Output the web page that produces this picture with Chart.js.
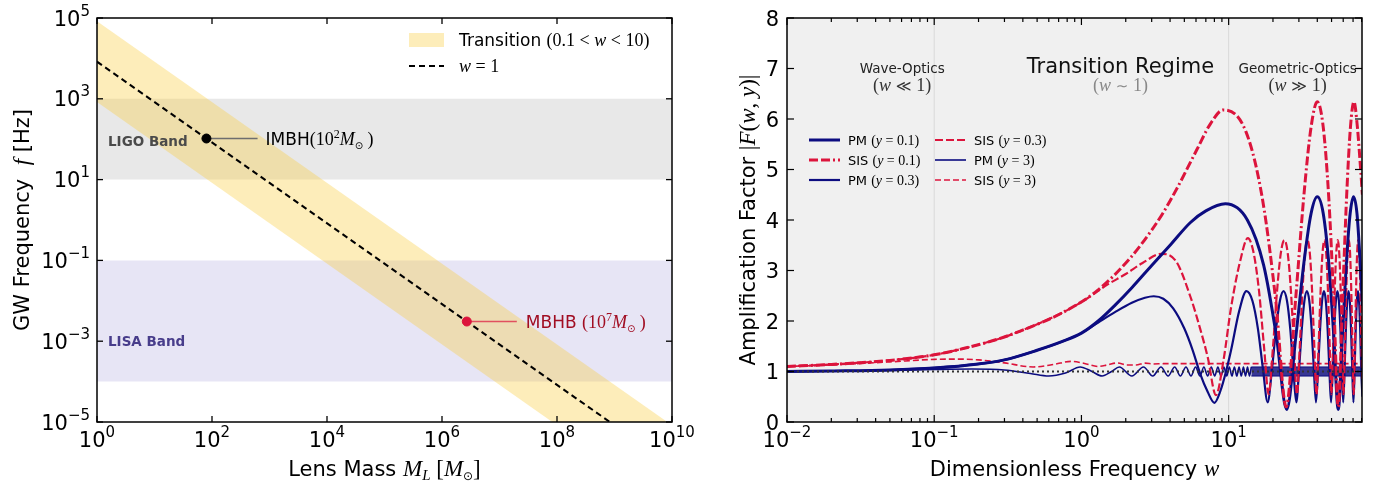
<!DOCTYPE html>
<html>
<head>
<meta charset="utf-8">
<script src="https://cdn.jsdelivr.net/npm/chart.js@4.4.1/dist/chart.umd.min.js"></script>
<style>
  html, body { margin: 0; padding: 0; background: #fff; }
  #wrap { position: relative; width: 1385px; height: 485px; }
  #left { position: absolute; left: 0; top: 0; }
  #right { position: absolute; left: 690px; top: 0; }
</style>
</head>
<body>
<div id="wrap">
  <canvas id="left" width="720" height="485"></canvas>
  <canvas id="right" width="695" height="485"></canvas>
</div>
<script>
// ---- left panel data (lens mass vs GW frequency) ----
const massTickExps = [0, 2, 4, 6, 8, 10];
const freqTickExps = [-5, -3, -1, 1, 3, 5];
const massRange = [1, 1e10];
const freqW1 = [8300, 8.3e-7];      // w = 1
const freqW01 = [830, 8.3e-8];      // w = 0.1
const freqW10 = [83000, 8.3e-6];    // w = 10
const ligoBand = [10, 1000];
const lisaBand = [1e-4, 0.1];
const imbhPoint = [80, 104];
const mbhbPoint = [2.7e6, 3.07e-3];
const imbhLeader = [80, 620];
const mbhbLeader = [2.7e6, 2.0e7];

// ---- right panel data (amplification factor) ----
const wTicks = [0.01, 0.1, 1, 10];
const fTicks = [0, 1, 2, 3, 4, 5, 6, 7, 8];
const regimeLines = [0.1, 10];
const unityW = [0.01, 81];
const unityF = [1, 1];

const pm01W = [0.01, 0.02, 0.05, 0.1, 0.2, 0.3, 0.5, 0.75, 1.0, 1.3, 1.7, 2.2, 3.0, 4.0, 5.5, 7.0, 9.5,
  13.4, 17.3, 21.1, 24.8, 28.7, 32.5, 36.3, 40.0, 43.9, 47.8, 51.7, 55.5, 59.3, 63.1, 66.9, 70.5, 74.4, 78.2, 81];
const pm01F = [1.0, 1.01, 1.03, 1.07, 1.15, 1.23, 1.42, 1.6, 1.76, 2.0, 2.32, 2.66, 3.1, 3.5, 3.95, 4.18, 4.32,
  4.0, 3.1, 1.7, 0.25, 1.73, 3.17, 4.13, 4.46, 4.13, 3.17, 1.73, 0.25, 1.73, 3.17, 4.13, 4.46, 4.13, 3.17, 2.3];

const pm03W = [0.01, 0.02, 0.05, 0.1, 0.2, 0.3, 0.5, 0.75, 1.0, 1.3, 1.7, 2.2, 2.7, 3.1, 3.6, 4.2, 5.0, 5.7, 6.4, 7.2, 8.0, 8.8, 9.6, 10.4, 11.8,
  13.2, 14.5, 15.8, 17.1, 18.4, 19.7, 21.0, 22.3,
  23.6, 24.9, 26.2, 27.5, 28.8, 30.1, 31.4, 32.7,
  34.0, 35.3, 36.6, 37.9, 39.2, 40.5, 41.8, 43.1,
  44.4, 45.7, 47.0, 48.3, 49.6, 50.9, 52.2, 53.5,
  54.8, 56.1, 57.4, 58.7, 60.0, 61.3, 62.6, 63.9,
  65.2, 66.5, 67.8, 69.1, 70.4, 71.7, 73.0, 74.3,
  75.6, 76.9, 78.2, 79.5, 81];
const pm03F = [1.0, 1.01, 1.03, 1.07, 1.15, 1.23, 1.42, 1.6, 1.76, 1.97, 2.18, 2.36, 2.46, 2.49, 2.44, 2.25, 1.85, 1.42, 0.96, 0.6, 0.38, 0.62, 1.0, 1.43, 2.2,
  2.59, 2.4, 1.85, 1.05, 0.39, 1.05, 1.85, 2.4,
  2.59, 2.4, 1.85, 1.05, 0.39, 1.05, 1.85, 2.4,
  2.59, 2.4, 1.85, 1.05, 0.39, 1.05, 1.85, 2.4,
  2.59, 2.4, 1.85, 1.05, 0.39, 1.05, 1.85, 2.4,
  2.59, 2.4, 1.85, 1.05, 0.39, 1.05, 1.85, 2.4,
  2.59, 2.4, 1.85, 1.05, 0.39, 1.05, 1.85, 2.4,
  2.59, 2.4, 1.85, 1.05, 0.5];

const pm3W = [0.01, 0.05, 0.1, 0.18, 0.3, 0.45, 0.6, 0.78, 0.98, 1.18, 1.38, 1.6, 1.81,
  2.2, 2.64, 3.05, 3.47, 3.88, 4.3, 4.7, 5.13, 5.55, 5.96, 6.38, 6.79, 7.2, 7.62, 8.04, 8.45,
  8.87, 9.28, 9.7, 10.11, 10.53, 10.94, 11.36, 11.77, 12.19, 12.6, 13.02, 13.43, 13.85, 14.26];
const pm3F = [1.0, 1.02, 1.04, 1.05, 1.03, 0.96, 0.91, 0.97, 1.09, 1.0, 0.91, 1.0, 1.09,
  0.91, 1.09, 0.91, 1.09, 0.91, 1.09, 0.91, 1.09, 0.91, 1.09, 0.91, 1.09, 0.91, 1.09, 0.91, 1.09,
  0.91, 1.09, 0.91, 1.09, 0.91, 1.09, 0.91, 1.09, 0.91, 1.09, 0.91, 1.09, 0.91, 1.09];
const pm3BandW = [14.26, 81];
const pm3BandLow = [0.91, 0.91];
const pm3BandHigh = [1.09, 1.09];

const sis01W = [0.01, 0.02, 0.05, 0.1, 0.16, 0.27, 0.45, 0.76, 1.28, 2.15, 3.0, 3.6, 4.5, 6.1, 7.5, 9.2,
  13.1, 17.0, 20.9, 24.6, 28.5, 32.4, 36.3, 40.0, 43.9, 47.8, 51.7, 55.5, 59.4, 63.3, 67.2, 71.0, 74.9, 78.8, 81];
const sis01F = [1.1, 1.14, 1.22, 1.33, 1.46, 1.64, 1.88, 2.18, 2.6, 3.25, 3.8, 4.15, 4.65, 5.4, 5.9, 6.18,
  5.75, 4.4, 2.4, 0.3, 2.43, 4.47, 5.84, 6.34, 5.84, 4.47, 2.43, 0.3, 2.43, 4.47, 5.84, 6.34, 5.84, 5.0, 4.5];

const sis03W = [0.01, 0.02, 0.05, 0.1, 0.16, 0.27, 0.45, 0.76, 1.1, 1.5, 2.0, 2.6, 3.5, 4.4, 5.5, 6.4, 7.2, 8.2, 9.2, 10.4, 12.0,
  13.5, 14.8, 16.1, 17.4, 18.7, 20.0, 21.3, 22.6,
  23.9, 25.2, 26.5, 27.8, 29.1, 30.4, 31.7, 33.0,
  34.3, 35.6, 36.9, 38.2, 39.5, 40.8, 42.1, 43.4,
  44.7, 46.0, 47.3, 48.6, 49.9, 51.2, 52.5, 53.8,
  55.1, 56.4, 57.7, 59.0, 60.3, 61.6, 62.9, 64.2,
  65.5, 66.8, 68.1, 69.4, 70.7, 72.0, 73.3, 74.6,
  75.9, 77.2, 78.5, 79.8, 81];
const sis03F = [1.1, 1.14, 1.22, 1.33, 1.46, 1.64, 1.88, 2.18, 2.45, 2.72, 2.93, 3.15, 3.33, 3.18, 2.48, 1.85, 1.29, 0.53, 1.2, 2.28, 3.2,
  3.64, 3.34, 2.58, 1.48, 0.55, 1.48, 2.58, 3.34,
  3.6, 3.34, 2.58, 1.48, 0.55, 1.48, 2.58, 3.34,
  3.6, 3.34, 2.58, 1.48, 0.55, 1.48, 2.58, 3.34,
  3.6, 3.34, 2.58, 1.48, 0.55, 1.48, 2.58, 3.34,
  3.6, 3.34, 2.58, 1.48, 0.55, 1.48, 2.58, 3.34,
  3.6, 3.34, 2.58, 1.48, 0.55, 1.48, 2.58, 3.34,
  3.6, 3.34, 2.58, 1.48, 0.8];

const sis3W = [0.01, 0.02, 0.05, 0.1, 0.15, 0.2, 0.3, 0.47, 0.65, 0.85, 1.05, 1.3, 1.5, 1.75, 2.05, 2.35, 2.7, 3.1, 3.6, 81];
const sis3F = [1.1, 1.13, 1.19, 1.24, 1.245, 1.23, 1.17, 1.09, 1.14, 1.2, 1.16, 1.1, 1.13, 1.17, 1.13, 1.13, 1.165, 1.15, 1.155, 1.155];

// ---- helpers ----
const NAVY = '#0c0c80';
const CRIMSON = '#dc143c';
const YELLOW = 'rgba(250, 205, 65, 0.36)';
const sans = (s, w = '') => `${w} ${s}px "DejaVu Sans", sans-serif`.trim();
const serif = (s, it = false) => `${it ? 'italic ' : ''}${s}px "Liberation Serif", "DejaVu Serif", serif`;
const pts = (xs, ys) => xs.map((x, i) => ({ x, y: ys[i] }));

function label(ctx, parts, x, y, align) {
  ctx.textAlign = 'left';
  ctx.textBaseline = 'alphabetic';
  let total = 0;
  parts.forEach((p) => { ctx.font = p.font; total += ctx.measureText(p.t).width; });
  let cx = align === 'center' ? x - total / 2 : align === 'right' ? x - total : x;
  parts.forEach((p) => {
    ctx.font = p.font;
    ctx.fillStyle = p.color || '#000';
    ctx.fillText(p.t, cx, y + (p.dy || 0));
    cx += ctx.measureText(p.t).width;
  });
}

function powerParts(e) {
  return [
    { t: '10', font: sans(21) },
    { t: e < 0 ? '\u2212' + (-e) : String(e), font: sans(15), dy: -10 },
  ];
}

function line(ctx, x1, y1, x2, y2) {
  ctx.beginPath();
  ctx.moveTo(x1, y1);
  ctx.lineTo(x2, y2);
  ctx.stroke();
}

function legendParts(model, yv) {
  return [
    { t: model + ' ', font: sans(13) },
    { t: '(', font: serif(14) },
    { t: 'y', font: serif(14, true) },
    { t: ' = ' + yv + ')', font: serif(14) },
  ];
}

// ---- left panel ----
const leftDecor = {
  id: 'leftDecor',
  afterDraw(chart) {
    const { ctx, chartArea: a } = chart;
    const xs = chart.scales.x;
    const ys = chart.scales.y;
    ctx.save();
    ctx.strokeStyle = '#000';
    ctx.lineWidth = 1.5;
    ctx.strokeRect(a.left, a.top, a.right - a.left, a.bottom - a.top);
    ctx.lineWidth = 1.3;
    massTickExps.forEach((e) => {
      const x = xs.getPixelForValue(Math.pow(10, e));
      line(ctx, x, a.bottom, x, a.bottom - 6);
      line(ctx, x, a.top, x, a.top + 6);
      label(ctx, powerParts(e), x, 447, 'center');
    });
    freqTickExps.forEach((e) => {
      const y = ys.getPixelForValue(Math.pow(10, e));
      line(ctx, a.left, y, a.left + 6, y);
      line(ctx, a.right, y, a.right - 6, y);
      label(ctx, powerParts(e), a.left - 7, y + 7.5, 'right');
    });

    // axis titles
    label(ctx, [
      { t: 'Lens Mass ', font: sans(21) },
      { t: 'M', font: serif(23, true) },
      { t: 'L', font: serif(15, true), dy: 4 },
      { t: ' [', font: serif(23) },
      { t: 'M', font: serif(23, true) },
      { t: '\u2299', font: sans(12), dy: 4 },
      { t: ']', font: serif(23) },
    ], (a.left + a.right) / 2, 476, 'center');
    ctx.save();
    ctx.translate(29, (a.top + a.bottom) / 2);
    ctx.rotate(-Math.PI / 2);
    label(ctx, [
      { t: 'GW Frequency  ', font: sans(21) },
      { t: 'f', font: serif(23, true) },
      { t: ' [Hz]', font: sans(21) },
    ], 0, 0, 'center');
    ctx.restore();

    // detector band labels
    label(ctx, [{ t: 'LIGO Band', font: sans(13.5, 'bold'), color: '#4a4a4a' }], a.left + 11,
      ys.getPixelForValue(100) + 7, 'left');
    label(ctx, [{ t: 'LISA Band', font: sans(13.5, 'bold'), color: '#483d8b' }], a.left + 11,
      ys.getPixelForValue(1e-3) + 5, 'left');

    // source annotations
    label(ctx, [
      { t: 'IMBH', font: sans(17) },
      { t: '(10', font: serif(18) },
      { t: '2', font: serif(12), dy: -7 },
      { t: 'M', font: serif(18, true) },
      { t: '\u2299', font: sans(10), dy: 4 },
      { t: ' )', font: serif(18) },
    ], xs.getPixelForValue(imbhLeader[1]) + 8, ys.getPixelForValue(imbhPoint[1]) + 6, 'left');
    const red = '#a10d22';
    label(ctx, [
      { t: 'MBHB ', font: sans(17), color: red },
      { t: '(10', font: serif(18), color: red },
      { t: '7', font: serif(12), dy: -7, color: red },
      { t: 'M', font: serif(18, true), color: red },
      { t: '\u2299', font: sans(10), dy: 4, color: red },
      { t: ' )', font: serif(18), color: red },
    ], xs.getPixelForValue(mbhbLeader[1]) + 9, ys.getPixelForValue(mbhbPoint[1]) + 6, 'left');

    // legend
    const lx = a.right - 263;
    ctx.fillStyle = YELLOW;
    ctx.fillRect(lx, 33, 35, 14);
    label(ctx, [
      { t: 'Transition ', font: sans(17) },
      { t: '(0.1 < ', font: serif(18) },
      { t: 'w', font: serif(18, true) },
      { t: ' < 10)', font: serif(18) },
    ], lx + 50, 46, 'left');
    ctx.strokeStyle = '#000';
    ctx.lineWidth = 2;
    ctx.setLineDash([6, 4]);
    line(ctx, lx, 66, lx + 35, 66);
    ctx.setLineDash([]);
    label(ctx, [
      { t: 'w', font: serif(18, true) },
      { t: ' = 1', font: serif(18) },
    ], lx + 50, 72, 'left');
    ctx.restore();
  },
};

new Chart(document.getElementById('left'), {
  type: 'line',
  data: {
    datasets: [
      { data: pts(massRange, [ligoBand[0], ligoBand[0]]), borderWidth: 0, pointRadius: 0, order: 10 },
      { data: pts(massRange, [ligoBand[1], ligoBand[1]]), borderWidth: 0, pointRadius: 0, order: 10,
        fill: 0, backgroundColor: '#e8e8e8' },
      { data: pts(massRange, [lisaBand[0], lisaBand[0]]), borderWidth: 0, pointRadius: 0, order: 10 },
      { data: pts(massRange, [lisaBand[1], lisaBand[1]]), borderWidth: 0, pointRadius: 0, order: 10,
        fill: 2, backgroundColor: '#e7e5f5' },
      { data: pts(massRange, freqW01), borderWidth: 0, pointRadius: 0, order: 8 },
      { data: pts(massRange, freqW10), borderWidth: 0, pointRadius: 0, order: 8,
        fill: 4, backgroundColor: YELLOW },
      { data: pts(massRange, freqW1), borderColor: '#000', borderWidth: 2, borderDash: [6, 4],
        pointRadius: 0, order: 5 },
      { data: pts(imbhLeader, [imbhPoint[1], imbhPoint[1]]), borderColor: '#6e6e6e', borderWidth: 1.6,
        pointRadius: 0, order: 4 },
      { data: pts(mbhbLeader, [mbhbPoint[1], mbhbPoint[1]]), borderColor: 'rgba(220, 20, 60, 0.7)',
        borderWidth: 1.6, pointRadius: 0, order: 4 },
      { data: [{ x: imbhPoint[0], y: imbhPoint[1] }], showLine: false, pointRadius: 4.5,
        pointBackgroundColor: '#000', pointBorderColor: '#000', order: 1 },
      { data: [{ x: mbhbPoint[0], y: mbhbPoint[1] }], showLine: false, pointRadius: 4.5,
        pointBackgroundColor: CRIMSON, pointBorderColor: CRIMSON, order: 1 },
    ],
  },
  options: {
    responsive: false,
    animation: false,
    devicePixelRatio: 1,
    layout: { padding: { left: 97, right: 48, top: 18, bottom: 63 } },
    scales: {
      x: { type: 'logarithmic', min: 1, max: 1e10, display: false },
      y: { type: 'logarithmic', min: 1e-5, max: 1e5, display: false },
    },
    plugins: { legend: { display: false }, tooltip: { enabled: false } },
    elements: { line: { tension: 0 } },
  },
  plugins: [leftDecor],
});

// ---- right panel ----
const rightDecor = {
  id: 'rightDecor',
  beforeDatasetsDraw(chart) {
    const { ctx, chartArea: a } = chart;
    ctx.save();
    ctx.fillStyle = '#f0f0f0';
    ctx.fillRect(a.left, a.top, a.right - a.left, a.bottom - a.top);
    ctx.restore();
  },
  afterDraw(chart) {
    const { ctx, chartArea: a } = chart;
    const xs = chart.scales.x;
    const ys = chart.scales.y;
    ctx.save();
    ctx.strokeStyle = '#000';
    ctx.lineWidth = 1.5;
    ctx.strokeRect(a.left, a.top, a.right - a.left, a.bottom - a.top);
    ctx.lineWidth = 1.2;
    wTicks.forEach((w) => {
      const x = xs.getPixelForValue(w);
      line(ctx, x, a.bottom, x, a.bottom - 7);
      line(ctx, x, a.top, x, a.top + 7);
      label(ctx, powerParts(Math.round(Math.log10(w))), x, 447, 'center');
      for (let m = 2; m <= 9; m++) {
        const v = w * m;
        if (v > xs.max) break;
        const xm = xs.getPixelForValue(v);
        line(ctx, xm, a.bottom, xm, a.bottom - 4);
        line(ctx, xm, a.top, xm, a.top + 4);
      }
    });
    fTicks.forEach((v) => {
      const y = ys.getPixelForValue(v);
      line(ctx, a.left, y, a.left + 7, y);
      line(ctx, a.right, y, a.right - 7, y);
      label(ctx, [{ t: String(v), font: sans(21) }], a.left - 8, y + 7.5, 'right');
    });

    // axis titles
    label(ctx, [
      { t: 'Dimensionless Frequency ', font: sans(21) },
      { t: 'w', font: serif(23, true) },
    ], (a.left + a.right) / 2, 476, 'center');
    ctx.save();
    ctx.translate(65, (a.top + a.bottom) / 2);
    ctx.rotate(-Math.PI / 2);
    label(ctx, [
      { t: 'Amplification Factor ', font: sans(21) },
      { t: '|', font: serif(23) },
      { t: 'F', font: serif(23, true) },
      { t: '(', font: serif(23) },
      { t: 'w', font: serif(23, true) },
      { t: ', ', font: serif(23) },
      { t: 'y', font: serif(23, true) },
      { t: ')|', font: serif(23) },
    ], 0, 0, 'center');
    ctx.restore();

    // regime annotations
    const cw = xs.getPixelForValue(0.1) - 32;
    const ct = xs.getPixelForValue(1) + 39;
    const cg = xs.getPixelForValue(10) + 69;
    label(ctx, [{ t: 'Wave-Optics', font: sans(13.5), color: '#222' }], cw, 73, 'center');
    label(ctx, [
      { t: '(', font: serif(18), color: '#333' },
      { t: 'w', font: serif(18, true), color: '#333' },
      { t: ' \u226a ', font: sans(15), color: '#333' },
      { t: '1)', font: serif(18), color: '#333' },
    ], cw, 91, 'center');
    label(ctx, [{ t: 'Transition Regime', font: sans(21), color: '#111' }], ct, 73, 'center');
    label(ctx, [
      { t: '(', font: serif(18), color: '#888' },
      { t: 'w', font: serif(18, true), color: '#888' },
      { t: ' \u223c ', font: sans(15), color: '#888' },
      { t: '1)', font: serif(18), color: '#888' },
    ], ct, 91, 'center');
    label(ctx, [{ t: 'Geometric-Optics', font: sans(13.5), color: '#222' }], cg, 73, 'center');
    label(ctx, [
      { t: '(', font: serif(18), color: '#333' },
      { t: 'w', font: serif(18, true), color: '#333' },
      { t: ' \u226b ', font: sans(15), color: '#333' },
      { t: '1)', font: serif(18), color: '#333' },
    ], cg, 91, 'center');

    // legend (2 columns x 3 rows)
    chart.data.datasets.forEach((ds) => {
      if (!ds.legendPos) return;
      const [col, row] = ds.legendPos;
      const x0 = a.left + 22 + col * 126;
      const y0 = a.top + 122 + row * 20;
      ctx.strokeStyle = ds.borderColor;
      ctx.lineWidth = ds.borderWidth;
      ctx.setLineDash(ds.borderDash || []);
      line(ctx, x0, y0, x0 + 31, y0);
      ctx.setLineDash([]);
      label(ctx, legendParts(ds.legendModel, ds.legendY), x0 + 39, y0 + 5, 'left');
    });
    ctx.restore();
  },
};

new Chart(document.getElementById('right'), {
  type: 'line',
  data: {
    datasets: [
      { data: pts([regimeLines[0], regimeLines[0]], [0, 8]), borderColor: '#d9d9d9', borderWidth: 1,
        pointRadius: 0, order: 20 },
      { data: pts([regimeLines[1], regimeLines[1]], [0, 8]), borderColor: '#d9d9d9', borderWidth: 1,
        pointRadius: 0, order: 20 },
      { data: pts(pm3BandW, pm3BandLow), borderColor: NAVY, borderWidth: 1, pointRadius: 0, order: 7 },
      { data: pts(pm3BandW, pm3BandHigh), borderColor: NAVY, borderWidth: 1, pointRadius: 0, order: 7,
        fill: 2, backgroundColor: 'rgba(22, 22, 130, 0.85)' },
      { data: pts(pm3W, pm3F), borderColor: NAVY, borderWidth: 1.6, pointRadius: 0, order: 6,
        cubicInterpolationMode: 'monotone', legendPos: [1, 1], legendModel: 'PM', legendY: '3' },
      { data: pts(sis3W, sis3F), borderColor: CRIMSON, borderWidth: 1.6, borderDash: [6, 3], pointRadius: 0,
        order: 5, cubicInterpolationMode: 'monotone', legendPos: [1, 2], legendModel: 'SIS', legendY: '3' },
      { data: pts(pm03W, pm03F), borderColor: NAVY, borderWidth: 2.2, pointRadius: 0, order: 4,
        cubicInterpolationMode: 'monotone', legendPos: [0, 2], legendModel: 'PM', legendY: '0.3' },
      { data: pts(sis03W, sis03F), borderColor: CRIMSON, borderWidth: 2.2, borderDash: [8, 3], pointRadius: 0,
        order: 3, cubicInterpolationMode: 'monotone', legendPos: [1, 0], legendModel: 'SIS', legendY: '0.3' },
      { data: pts(pm01W, pm01F), borderColor: NAVY, borderWidth: 3, pointRadius: 0, order: 2,
        cubicInterpolationMode: 'monotone', legendPos: [0, 0], legendModel: 'PM', legendY: '0.1' },
      { data: pts(sis01W, sis01F), borderColor: CRIMSON, borderWidth: 3, borderDash: [9, 3, 9, 3, 2, 3],
        pointRadius: 0, order: 1, cubicInterpolationMode: 'monotone', legendPos: [0, 1], legendModel: 'SIS',
        legendY: '0.1' },
      { data: pts(unityW, unityF), borderColor: '#333', borderWidth: 2, borderDash: [2, 3], pointRadius: 0,
        order: 0 },
    ],
  },
  options: {
    responsive: false,
    animation: false,
    devicePixelRatio: 1,
    layout: { padding: { left: 97, right: 23, top: 18, bottom: 63 } },
    scales: {
      x: { type: 'logarithmic', min: 0.01, max: 80.5, display: false },
      y: { type: 'linear', min: 0, max: 8, display: false },
    },
    plugins: { legend: { display: false }, tooltip: { enabled: false } },
  },
  plugins: [rightDecor],
});
</script>
</body>
</html>
